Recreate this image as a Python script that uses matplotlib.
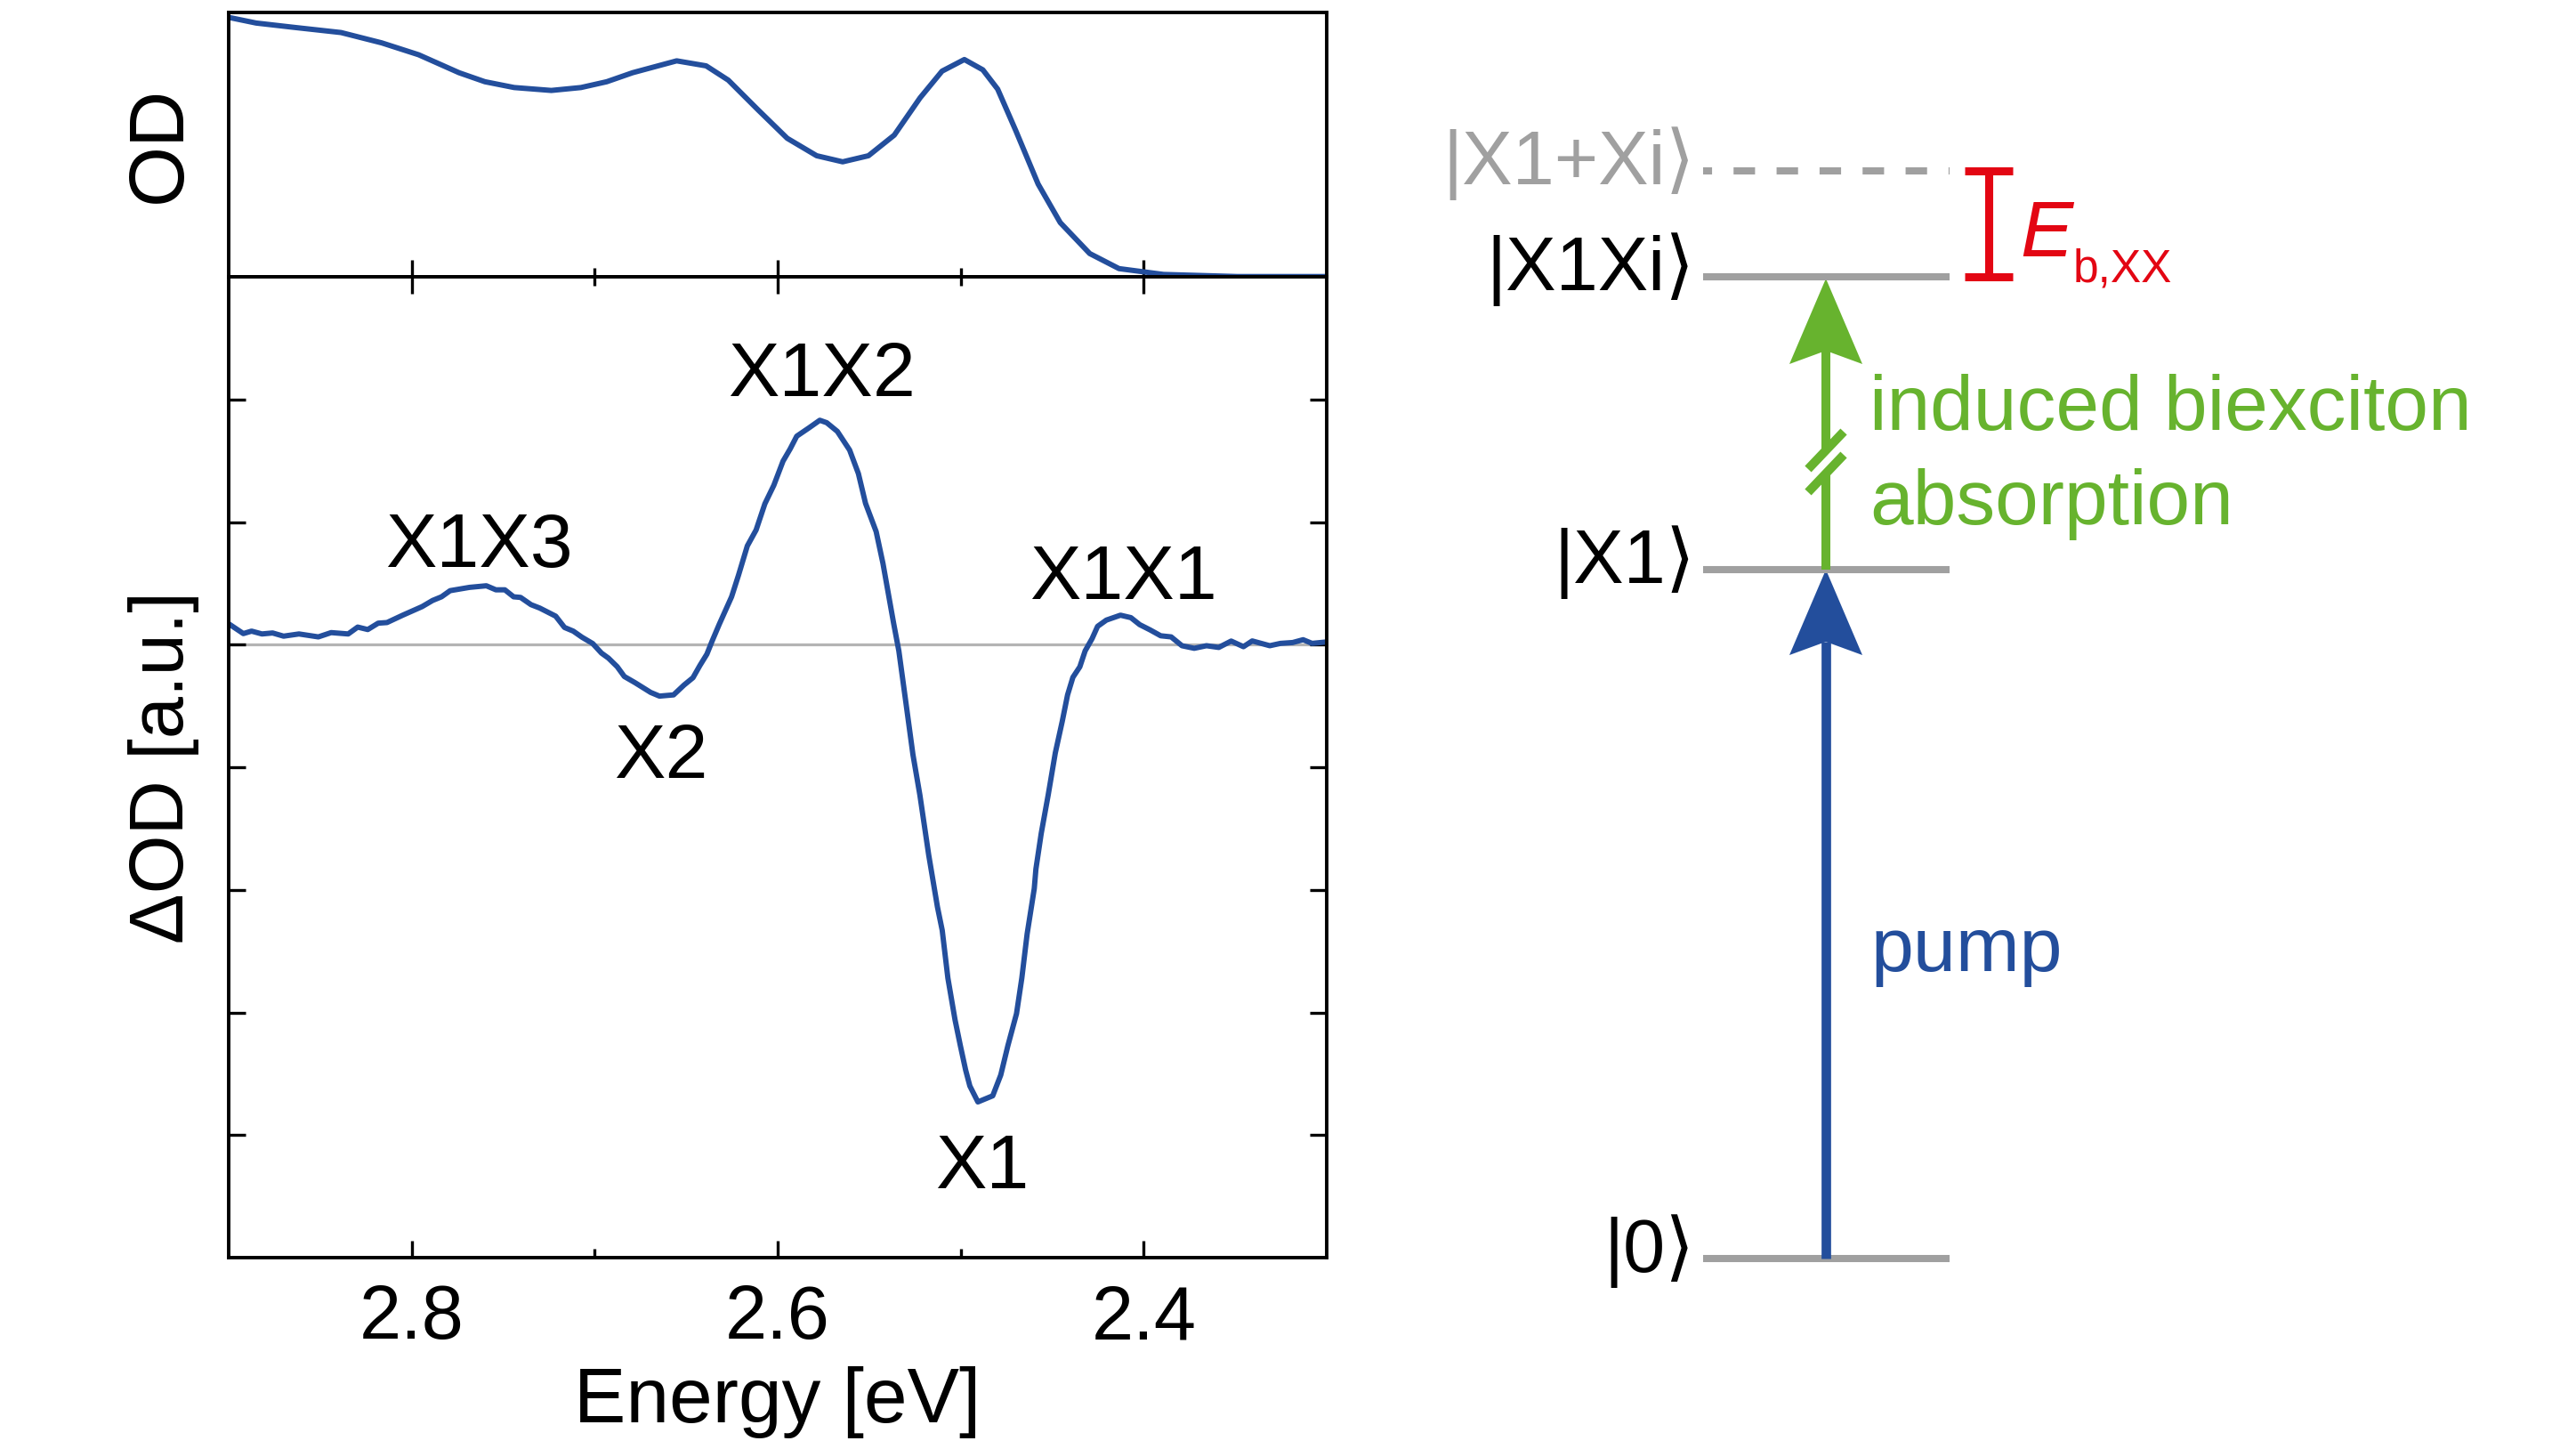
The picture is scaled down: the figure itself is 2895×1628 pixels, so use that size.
import matplotlib
matplotlib.use('Agg')
import matplotlib.pyplot as plt
from matplotlib.patches import Polygon

W, H = 2895, 1628
DPI = 100

# ---------------- data ----------------
od_energy = [2.899, 2.885, 2.8648, 2.8386, 2.8164, 2.7962, 2.7741, 2.76, 2.744, 2.7237,
             2.7075, 2.6934, 2.6793, 2.6552, 2.6391, 2.627, 2.6108, 2.5948, 2.5787, 2.5645,
             2.5504, 2.5363, 2.5222, 2.5102, 2.498, 2.4879, 2.4798, 2.4699, 2.4577, 2.4456,
             2.4295, 2.4135, 2.3892, 2.3489, 2.3]
od_value = [0.980, 0.960, 0.944, 0.924, 0.885, 0.840, 0.772, 0.738, 0.716, 0.705,
            0.716, 0.738, 0.772, 0.817, 0.798, 0.744, 0.632, 0.524, 0.458, 0.435,
            0.458, 0.536, 0.677, 0.778, 0.822, 0.783, 0.710, 0.553, 0.351, 0.205,
            0.088, 0.031, 0.009, 0.001, 0.001]

dod_energy = [2.899, 2.892, 2.8875, 2.8818, 2.876, 2.870, 2.8616, 2.851, 2.844, 2.8347,
              2.8295, 2.824, 2.8183, 2.8135, 2.8049, 2.7943, 2.7886, 2.7837, 2.779, 2.7684,
              2.7592, 2.754, 2.7491, 2.7443, 2.7405, 2.7348, 2.73, 2.7213, 2.7165, 2.7117,
              2.7069, 2.7011, 2.6963, 2.6925, 2.6877, 2.6838, 2.678, 2.6694, 2.6646, 2.6569,
              2.6512, 2.6463, 2.6425, 2.6387, 2.6358, 2.6319, 2.6252, 2.6214, 2.6166, 2.6118,
              2.607, 2.6021, 2.5971, 2.5932, 2.5896, 2.5829, 2.577, 2.5732, 2.5674, 2.5607,
              2.5559, 2.552, 2.5462, 2.5425, 2.5367, 2.5338, 2.53, 2.5261, 2.5223, 2.5175,
              2.5127, 2.5101, 2.507, 2.5031, 2.5002, 2.4973, 2.495, 2.4906, 2.4825, 2.4781,
              2.4742, 2.4695, 2.4666, 2.4637, 2.4598, 2.4589, 2.456, 2.4522, 2.4483, 2.4445,
              2.4416, 2.4387, 2.4349, 2.432, 2.4282, 2.4252, 2.4204, 2.4127, 2.407, 2.4022,
              2.3965, 2.3907, 2.385, 2.3791, 2.3724, 2.3657, 2.359, 2.3522, 2.3455, 2.3407,
              2.3311, 2.3253, 2.3186, 2.3129, 2.308, 2.3013]
dod_value = [0.16, 0.09, 0.11, 0.087, 0.095, 0.069, 0.087, 0.063, 0.098, 0.087,
             0.143, 0.123, 0.175, 0.18, 0.24, 0.31, 0.36, 0.39, 0.44, 0.467,
             0.48, 0.447, 0.447, 0.39, 0.385, 0.326, 0.298, 0.232, 0.14, 0.11,
             0.06, 0.009, -0.069, -0.11, -0.18, -0.26, -0.31, -0.39, -0.42, -0.41,
             -0.33, -0.27, -0.17, -0.078, 0.03, 0.167, 0.39, 0.567, 0.805, 0.935,
             1.149, 1.30, 1.496, 1.596, 1.70, 1.768, 1.83, 1.81, 1.739, 1.587,
             1.395, 1.152, 0.922, 0.664, 0.178, -0.051, -0.467, -0.897, -1.227, -1.714,
             -2.14, -2.33, -2.72, -3.06, -3.27, -3.47, -3.60, -3.73, -3.68, -3.51,
             -3.27, -3.01, -2.72, -2.36, -1.99, -1.83, -1.54, -1.227, -0.883, -0.625,
             -0.41, -0.267, -0.181, -0.051, 0.049, 0.149, 0.20, 0.24, 0.22, 0.163,
             0.12, 0.072, 0.063, -0.009, -0.03, -0.009, -0.023, 0.029, -0.017, 0.03,
             -0.009, 0.01, 0.017, 0.04, 0.01, 0.02]

xtick_values = [2.8, 2.6, 2.4]
xtick_labels = ['2.8', '2.6', '2.4']
xminor_values = [2.7, 2.5]
ytick_values = [-4, -3, -2, -1, 0, 1, 2]

peak_names = ['X1X3', 'X2', 'X1X2', 'X1X1', 'X1']
peak_energy = [2.763, 2.6638, 2.5758, 2.411, 2.4885]
peak_value = [0.633, -1.086, 2.025, 0.372, -4.437]

# energy-level scheme (schematic, in figure pixel units)
level_names = ['|0\u27e9', '|X1\u27e9', '|X1Xi\u27e9', '|X1+Xi\u27e9']
level_y = [1414, 640, 311, 192]
level_colors = ['black', 'black', 'black', '#a0a0a0']
level_dashed = [False, False, False, True]

# ---------------- style ----------------
BLUE = '#234e9c'
GREEN = '#67b32e'
RED = '#e30613'
GRAY = '#a0a0a0'
FS = 61
CURVE_LW = 4.3

plt.rcParams['font.family'] = ['Liberation Sans', 'DejaVu Sans']
plt.rcParams['axes.linewidth'] = 2.8

fig = plt.figure(figsize=(W / DPI, H / DPI), dpi=DPI)

ax_od = fig.add_axes([257 / W, 1 - 311 / H, 1234 / W, 297 / H])
ax_d = fig.add_axes([257 / W, 1 - 1413 / H, 1234 / W, 1102 / H])

for ax in (ax_od, ax_d):
    ax.set_xlim(2.9, 2.3)
    ax.set_xticks(xtick_values)
    ax.set_xticks(xminor_values, minor=True)
    ax.tick_params(axis='both', which='major', direction='in', length=13.7, width=2.4)
    ax.tick_params(axis='both', which='minor', direction='in', length=7.2, width=2.4)

# OD panel
ax_od.plot(od_energy, od_value, color=BLUE, lw=CURVE_LW, solid_joinstyle='round')
ax_od.set_ylim(0, 1)
ax_od.set_yticks([])
ax_od.tick_params(axis='x', which='both', bottom=True, top=False, labelbottom=False)
ax_od.set_ylabel('OD', fontsize=FS + 2, labelpad=26)

# Delta OD panel
ax_d.axhline(0, color='#b4b4b4', lw=2.3, zorder=1)
ax_d.plot(dod_energy, dod_value, color=BLUE, lw=CURVE_LW, zorder=2, solid_joinstyle='round')
ax_d.set_ylim(-5, 3)
ax_d.set_yticks(ytick_values)
ax_d.set_xticklabels(xtick_labels)
ax_d.tick_params(axis='x', which='both', bottom=True, top=True, labelsize=FS, pad=21)
ax_d.tick_params(axis='y', which='both', left=True, right=True, labelleft=False)
ax_d.set_xlabel('Energy [eV]', fontsize=FS + 2, labelpad=9)
ax_d.set_ylabel('\u0394OD [a.u.]', fontsize=FS, labelpad=24)
for name, e, v in zip(peak_names, peak_energy, peak_value):
    ax_d.text(e, v, name, fontsize=FS + 1, ha='center', va='baseline')

# ---------------- level scheme ----------------
ov = fig.add_axes([0, 0, 1, 1])
ov.set_xlim(0, W)
ov.set_ylim(H, 0)
ov.set_axis_off()
ov.patch.set_visible(False)

LX0, LX1 = 1914, 2191
ARROW_X = 2052
LEVEL_LW = 5.8
for name, y, c, dashed in zip(level_names, level_y, level_colors, level_dashed):
    if dashed:
        ov.plot([LX0, LX1], [y, y], color=GRAY, lw=LEVEL_LW,
                linestyle=(1.75, (3, 3)), dash_capstyle='butt')
    else:
        ov.plot([LX0, LX1], [y, y], color=GRAY, lw=LEVEL_LW, solid_capstyle='butt')
    ov.text(1905, y + 15, name, fontsize=FS, color=c, ha='right', va='baseline')


def notched_arrow(x, y_start, y_end, color, lw, hw=41, hl=96, notch=81, breaks=None):
    y_notch = y_end + notch
    if breaks is None:
        ov.plot([x, x], [y_start, y_notch], color=color, lw=lw, solid_capstyle='butt')
    else:
        lo, hi = breaks
        ov.plot([x, x], [y_start, lo], color=color, lw=lw, solid_capstyle='butt')
        ov.plot([x, x], [hi, y_notch], color=color, lw=lw, solid_capstyle='butt')
        for yb in breaks:
            ov.plot([x - 20, x + 20], [yb + 21, yb - 21], color=color, lw=lw,
                    solid_capstyle='butt')
    head = Polygon([(x, y_end), (x - hw, y_end + hl), (x, y_notch), (x + hw, y_end + hl)],
                   closed=True, facecolor=color, edgecolor='none')
    ov.add_patch(head)


notched_arrow(ARROW_X, level_y[0], level_y[1], BLUE, 7.7)
notched_arrow(ARROW_X, level_y[1], level_y[2] + 2, GREEN, 7.2, breaks=(532, 506))

ov.text(2103, 1091, 'pump', fontsize=FS + 1, color=BLUE, ha='left', va='baseline')
ov.text(2101, 483, 'induced biexciton', fontsize=FS + 2, color=GREEN, ha='left', va='baseline')
ov.text(2101, 589, 'absorption', fontsize=FS + 2, color=GREEN, ha='left', va='baseline')

# binding-energy bracket
BX = 2235
ov.plot([BX, BX], [level_y[3], level_y[2]], color=RED, lw=6.5, solid_capstyle='butt')
for y in (level_y[3], level_y[2]):
    ov.plot([BX - 27, BX + 27], [y, y], color=RED, lw=6.5, solid_capstyle='butt')
ov.text(2270, 287.5, 'E', fontsize=FS + 3, color=RED, style='italic', ha='left', va='baseline')
ov.text(2330, 316.5, 'b,XX', fontsize=37, color=RED, ha='left', va='baseline')

fig.savefig('out.png', dpi=DPI)
